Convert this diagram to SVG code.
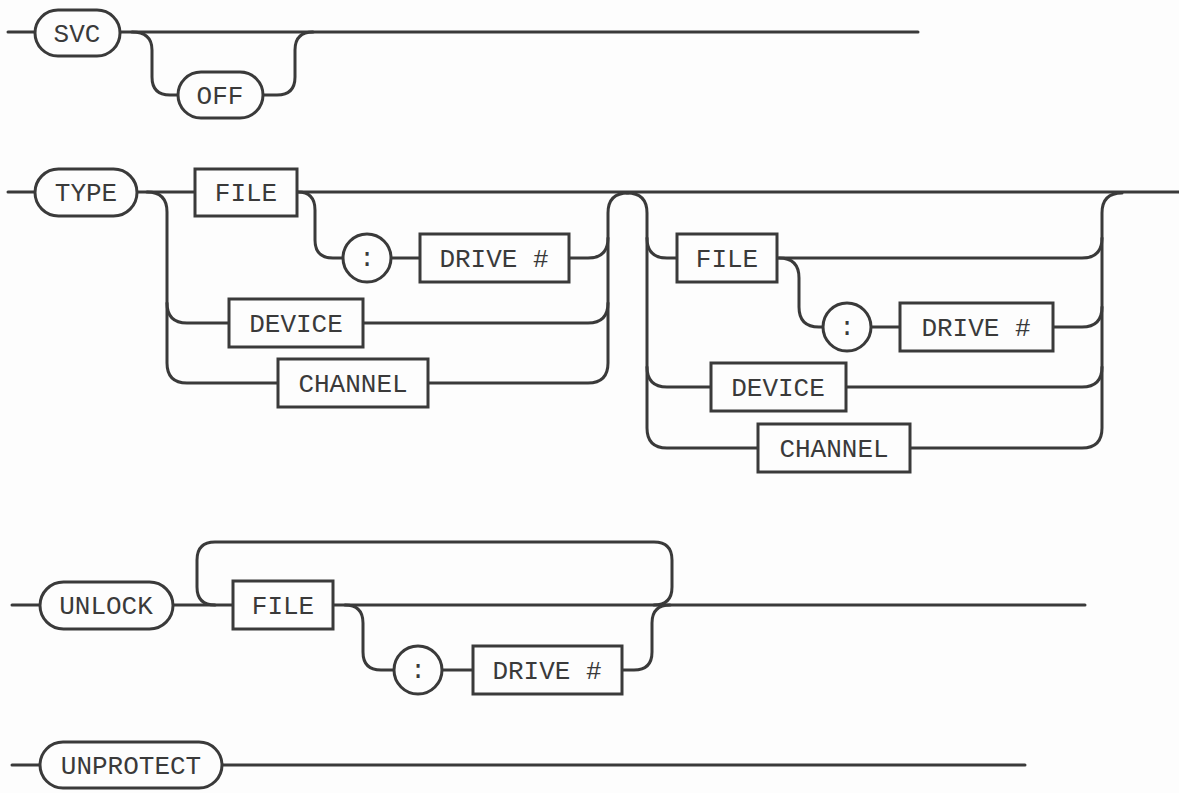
<svg xmlns="http://www.w3.org/2000/svg" width="1179" height="793" viewBox="0 0 1179 793">
<style>
.ln{fill:none;stroke:#3a3a3a;stroke-width:3;stroke-linecap:round;stroke-linejoin:round}
.sh{fill:#fdfdfd;stroke:#3a3a3a;stroke-width:3}
.tx{font-family:"Liberation Mono","Courier New",monospace;font-size:26px;fill:#3a3a3a;text-anchor:middle}
</style>
<rect x="0" y="0" width="1179" height="793" fill="#fdfdfd"/>
<g id="connectors">
<!-- row 1 -->
<path class="ln" d="M8,32 H35 M120,32 H918"/>
<path class="ln" d="M132,32 Q152,32 152,50 V77 Q152,95 170,95 H178"/>
<path class="ln" d="M263,95 H277 Q295,95 295,77 V50 Q295,32 313,32"/>
<!-- row 2 -->
<path class="ln" d="M8,192 H35 M137,192 H195 M297,192 H1179"/>
<path class="ln" d="M147,192 Q167,192 167,212 V363 Q167,383 187,383 H278"/>
<path class="ln" d="M167,303 Q167,323 187,323 H229"/>
<path class="ln" d="M298,192 Q315,192 315,210 V240 Q315,258 333,258 H343 M391,258 H420"/>
<path class="ln" d="M569,258 H588 Q608,258 608,238"/>
<path class="ln" d="M363,323 H588 Q608,323 608,303"/>
<path class="ln" d="M428,383 H588 Q608,383 608,363 V213 Q608,193 628,193"/>
<path class="ln" d="M627,193 Q647,193 647,213 V428 Q647,448 667,448 H758"/>
<path class="ln" d="M647,238 Q647,258 667,258 H677"/>
<path class="ln" d="M647,367 Q647,387 667,387 H711"/>
<path class="ln" d="M777,258 H1082 Q1102,258 1102,238"/>
<path class="ln" d="M779,258 Q799,258 799,278 V307 Q799,327 819,327 H823 M871,327 H900"/>
<path class="ln" d="M1053,327 H1082 Q1102,327 1102,307"/>
<path class="ln" d="M846,387 H1082 Q1102,387 1102,367"/>
<path class="ln" d="M910,448 H1082 Q1102,448 1102,428 V213 Q1102,193 1122,193"/>
<!-- row 3 -->
<path class="ln" d="M12,605 H40 M173,605 H233 M333,605 H1085"/>
<path class="ln" d="M215,605 Q197,605 197,587 V560 Q197,542 215,542 H654 Q672,542 672,560 V587 Q672,605 654,605"/>
<path class="ln" d="M345,605 Q363,605 363,623 V652 Q363,670 381,670 H394 M442,670 H473"/>
<path class="ln" d="M622,670 H634 Q652,670 652,652 V623 Q652,605 670,605"/>
<!-- row 4 -->
<path class="ln" d="M12,765 H40 M222,765 H1025"/>
</g>
<g id="svc"><rect class="sh" x="35" y="10" width="85" height="46" rx="23"/><text class="tx" x="77" y="42">SVC</text></g>
<g id="off"><rect class="sh" x="178" y="72" width="85" height="46" rx="23"/><text class="tx" x="220" y="104">OFF</text></g>
<g id="type"><rect class="sh" x="35" y="169" width="102" height="47" rx="23.5"/><text class="tx" x="86" y="201">TYPE</text></g>
<g id="file1"><rect class="sh" x="195" y="169" width="102" height="47"/><text class="tx" x="246" y="201">FILE</text></g>
<g id="colon1"><circle class="sh" cx="367" cy="258" r="24"/><text class="tx" x="367" y="266">:</text></g>
<g id="drive1"><rect class="sh" x="420" y="234" width="149" height="48"/><text class="tx" x="494" y="267">DRIVE #</text></g>
<g id="device1"><rect class="sh" x="229" y="299" width="134" height="48"/><text class="tx" x="296" y="332">DEVICE</text></g>
<g id="channel1"><rect class="sh" x="278" y="359" width="150" height="48"/><text class="tx" x="353" y="392">CHANNEL</text></g>
<g id="file2"><rect class="sh" x="677" y="234" width="100" height="48"/><text class="tx" x="727" y="267">FILE</text></g>
<g id="colon2"><circle class="sh" cx="847" cy="327" r="24"/><text class="tx" x="847" y="335">:</text></g>
<g id="drive2"><rect class="sh" x="900" y="303" width="153" height="48"/><text class="tx" x="976" y="336">DRIVE #</text></g>
<g id="device2"><rect class="sh" x="711" y="363" width="135" height="48"/><text class="tx" x="778" y="396">DEVICE</text></g>
<g id="channel2"><rect class="sh" x="758" y="424" width="152" height="48"/><text class="tx" x="834" y="457">CHANNEL</text></g>
<g id="unlock"><rect class="sh" x="40" y="582" width="133" height="47" rx="23.5"/><text class="tx" x="106" y="614">UNLOCK</text></g>
<g id="file3"><rect class="sh" x="233" y="581" width="100" height="48"/><text class="tx" x="283" y="614">FILE</text></g>
<g id="colon3"><circle class="sh" cx="418" cy="670" r="24"/><text class="tx" x="418" y="678">:</text></g>
<g id="drive3"><rect class="sh" x="473" y="646" width="149" height="48"/><text class="tx" x="547" y="679">DRIVE #</text></g>
<g id="unprotect"><rect class="sh" x="40" y="742" width="182" height="46" rx="23"/><text class="tx" x="131" y="774">UNPROTECT</text></g>
</svg>
